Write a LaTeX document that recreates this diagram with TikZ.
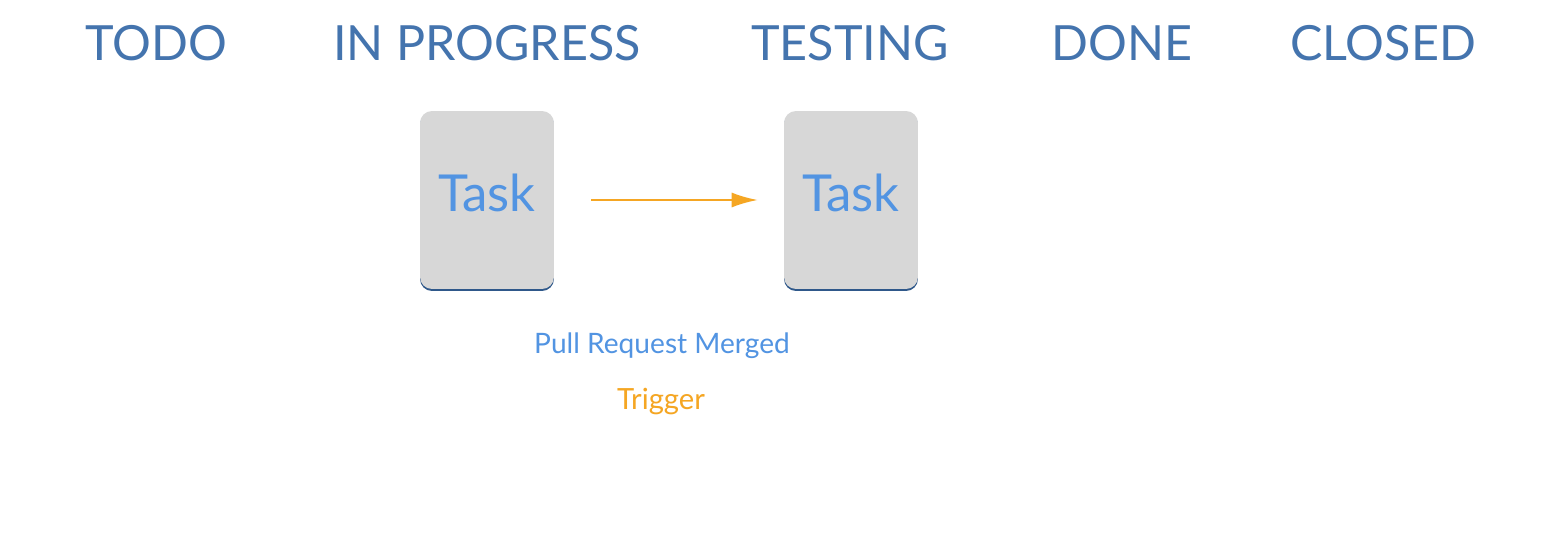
\documentclass[tikz,border=0pt]{standalone}
\usepackage{fontspec}
\setmainfont{Lato}
\usetikzlibrary{arrows.meta,shadows}
\definecolor{headblue}{RGB}{68,116,174}
\definecolor{taskblue}{RGB}{82,148,226}
\definecolor{cardgray}{RGB}{215,215,215}
\definecolor{shadeblue}{RGB}{47,88,138}
\definecolor{trigorange}{RGB}{245,166,35}
\tikzset{
  head/.style={text=headblue, font=\fontsize{27.6}{32}\selectfont, anchor=base},
  card/.style={fill=cardgray, rounded corners=0.24cm, minimum width=2.68cm,
    minimum height=3.56cm, text=taskblue, font=\fontsize{29}{34}\selectfont,
    text height=0.74cm, text depth=0.26cm,
    drop shadow={shadow xshift=0pt, shadow yshift=-0.04cm, fill=shadeblue, opacity=1}},
  small/.style={font=\fontsize{16}{19}\selectfont, anchor=base}
}
\begin{document}
\begin{tikzpicture}[x=0.02cm,y=-0.02cm]
  \useasboundingbox[fill=white] (0,0) rectangle (1556,534);
  \node[head] (todo) at (156,60) {TODO};
  \node[head] (inprogress) at (487,60) {IN PROGRESS};
  \node[head] (testing) at (850,60) {TESTING};
  \node[head] (done) at (1122,60) {DONE};
  \node[head] (closed) at (1383,60) {CLOSED};
  \node[card] (task1) at (487,200) {Task};
  \node[card] (task2) at (851,200) {Task};
  \draw[trigorange, line width=0.04cm, -{Latex[length=0.52cm,width=0.3cm]},
    shorten <=0.74cm, shorten >=0.52cm] (task1) -- (task2);
  \node[small, text=taskblue] (merged) at (662,353) {Pull Request Merged};
  \node[small, text=trigorange, font=\fontsize{16.6}{19}\selectfont] (trigger) at (661,409) {Trigger};
\end{tikzpicture}
\end{document}
